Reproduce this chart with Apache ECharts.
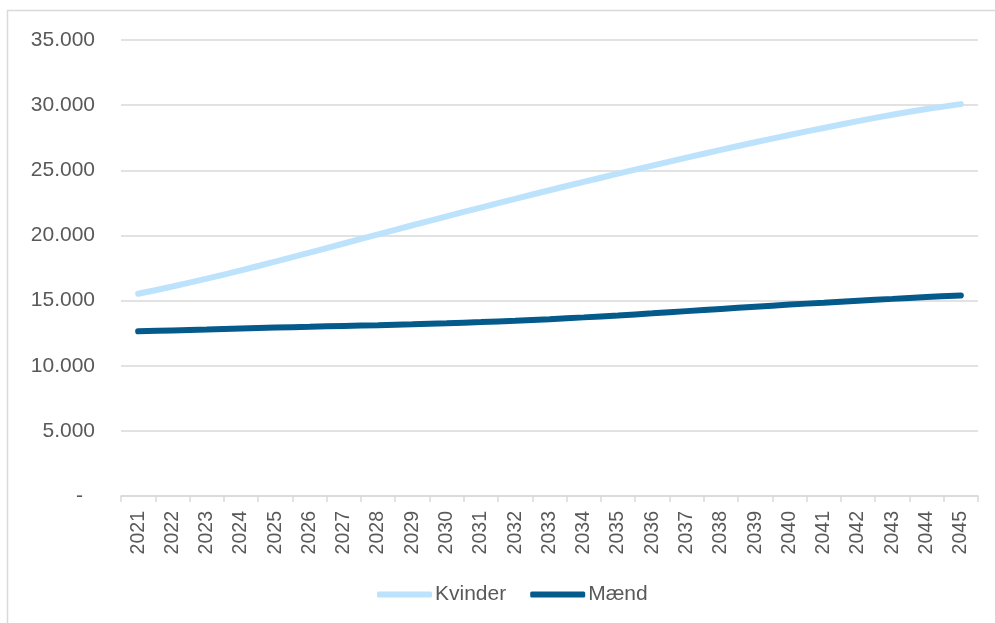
<!DOCTYPE html>
<html>
<head>
<meta charset="utf-8">
<script src="https://cdn.jsdelivr.net/npm/echarts@6/dist/echarts.min.js"></script>
<style>
  html, body { margin: 0; padding: 0; background: #ffffff; }
  #chart { width: 995px; height: 623px; }
</style>
</head>
<body>
<div id="chart"></div>
<script>
// Years on the category axis
const years = ['2021','2022','2023','2024','2025','2026','2027','2028','2029','2030',
  '2031','2032','2033','2034','2035','2036','2037','2038','2039','2040',
  '2041','2042','2043','2044','2045'];

// Projected counts per year
const kvinder = [15520, 16080, 16680, 17320, 17990, 18680, 19380, 20080, 20780, 21460,
  22140, 22810, 23470, 24110, 24740, 25360, 25970, 26570, 27150, 27710,
  28250, 28770, 29260, 29700, 30080];
const maend = [12640, 12710, 12780, 12860, 12930, 12990, 13050, 13110, 13180, 13260,
  13350, 13450, 13570, 13710, 13860, 14020, 14190, 14360, 14530, 14690,
  14840, 14990, 15130, 15270, 15390];

const seriesNames = ['Kvinder', 'Mænd'];

const FONT = '"Liberation Sans", Arial, sans-serif';
const TEXT = '#595959';
const GRID = '#d9d9d9';

function thousands(v) {
  return String(v).replace(/\B(?=(\d{3})+(?!\d))/g, '.');
}

const chart = echarts.init(document.getElementById('chart'), null, { renderer: 'canvas' });

chart.setOption({
  animation: false,
  backgroundColor: '#ffffff',
  textStyle: { fontFamily: FONT },
  graphic: [{
    type: 'rect',
    shape: { x: 7.5, y: 10.5, width: 1100, height: 800 },
    style: { fill: 'none', stroke: GRID, lineWidth: 1.5 },
    silent: true,
    z: -10
  }],
  grid: { left: 121, right: 17, top: 40, bottom: 127, containLabel: false },
  legend: {
    left: 372,
    top: 579,
    itemWidth: 55,
    itemHeight: 6,
    itemGap: 24,
    icon: 'roundRect',
    textStyle: { fontFamily: FONT, fontSize: 21, color: TEXT, padding: [0, 0, 0, -2] },
    data: seriesNames
  },
  xAxis: {
    type: 'category',
    data: years,
    boundaryGap: true,
    axisLine: { lineStyle: { color: GRID, width: 1.5 } },
    axisTick: { show: true, length: 6, lineStyle: { color: GRID, width: 1.5 } },
    axisLabel: { rotate: 90, margin: 15, fontSize: 19.5, color: TEXT, fontFamily: FONT, interval: 0 }
  },
  yAxis: {
    type: 'value',
    min: 0,
    max: 35000,
    interval: 5000,
    axisLine: { show: false },
    axisTick: { show: false },
    splitLine: { lineStyle: { color: GRID, width: 1.5 } },
    axisLabel: {
      margin: 26,
      fontSize: 21,
      color: TEXT,
      fontFamily: FONT,
      formatter: function (v) { return v === 0 ? '{z|-}' : thousands(v); },
      rich: { z: { fontSize: 21, color: TEXT, fontFamily: FONT, padding: [0, 12, 0, 0] } }
    }
  },
  series: [
    {
      name: seriesNames[0],
      type: 'line',
      data: kvinder,
      smooth: 0.3,
      symbol: 'none',
      color: '#BDE2FC',
      lineStyle: { width: 6, color: '#BDE2FC', cap: 'round' }
    },
    {
      name: seriesNames[1],
      type: 'line',
      data: maend,
      smooth: 0.3,
      symbol: 'none',
      color: '#045A8B',
      lineStyle: { width: 6, color: '#045A8B', cap: 'round' }
    }
  ]
});
</script>
</body>
</html>
